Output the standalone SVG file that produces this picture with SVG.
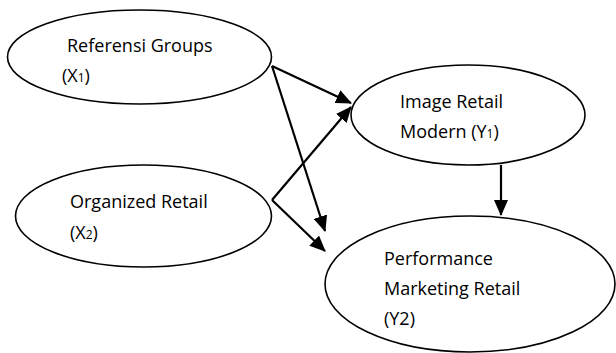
<svg xmlns="http://www.w3.org/2000/svg" width="616" height="353" viewBox="0 0 616 353">
<style>
.n{fill:#fff;stroke:#000;stroke-width:1.6}
.t{font-family:"Open Sans","Liberation Sans",sans-serif;font-size:18px;fill:#000}
.c{stroke:#000;stroke-width:2.2;fill:none}
</style>
<defs>
<marker id="ah" markerUnits="userSpaceOnUse" markerWidth="16" markerHeight="14" refX="15" refY="7" orient="auto">
<path d="M0,0 L16,7 L0,14 z" fill="#000"/>
</marker>
</defs>
<rect width="616" height="353" fill="#fff"/>
<g id="x1">
<ellipse class="n" cx="139.5" cy="57" rx="132" ry="47"/>
<text class="t" x="67" y="52">Referensi Groups</text>
<text class="t" x="62" y="82">(X<tspan font-size="12">1</tspan>)</text>
</g>
<g id="x2">
<ellipse class="n" cx="143.5" cy="216" rx="128" ry="51"/>
<text class="t" x="70" y="208">Organized Retail</text>
<text class="t" x="70" y="239">(X<tspan font-size="12">2</tspan>)</text>
</g>
<g id="y1">
<ellipse class="n" cx="468" cy="115" rx="117" ry="50"/>
<text class="t" x="400" y="108">Image Retail</text>
<text class="t" x="400" y="138">Modern (Y<tspan font-size="12">1</tspan>)</text>
</g>
<g id="y2">
<ellipse class="n" cx="470" cy="284" rx="145" ry="68"/>
<text class="t" x="384" y="265">Performance</text>
<text class="t" x="384" y="295">Marketing Retail</text>
<text class="t" x="384" y="325">(Y2)</text>
</g>
<g id="connectors">
<line class="c" x1="272" y1="66" x2="351" y2="103" marker-end="url(#ah)"/>
<line class="c" x1="272" y1="66" x2="325" y2="231" marker-end="url(#ah)"/>
<line class="c" x1="272" y1="200" x2="351" y2="107" marker-end="url(#ah)"/>
<line class="c" x1="272" y1="200" x2="325" y2="251" marker-end="url(#ah)"/>
<line class="c" x1="501" y1="165" x2="501" y2="215" marker-end="url(#ah)"/>
</g>
</svg>
